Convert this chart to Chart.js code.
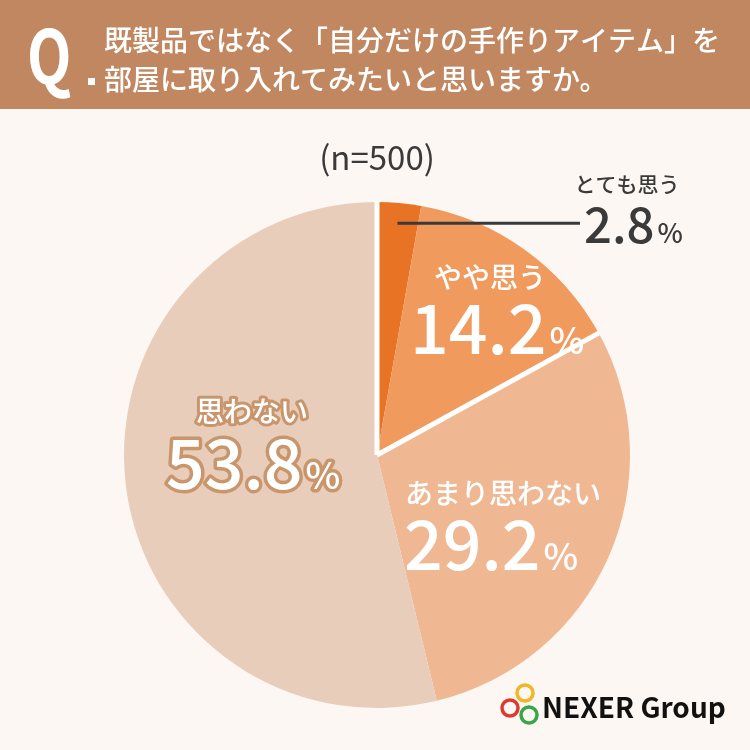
<!DOCTYPE html>
<html>
<head>
<meta charset="utf-8">
<script src="https://cdn.jsdelivr.net/npm/chart.js@4"></script>
<style>
  html, body { margin: 0; padding: 0; background: #FDF7F3; }
  #wrap { width: 750px; height: 750px; }
</style>
</head>
<body>
<div id="wrap"><canvas id="pie-chart" width="750" height="750"></canvas></div>
<script>
// データ
var pieLabels = ["とても思う", "やや思う", "あまり思わない", "思わない"];
var pieData = [2.8, 14.2, 29.2, 53.8];
var pieColors = ["#E87324", "#F09A5E", "#EFB893", "#E8CDBB"];

var titleLines = ["既製品ではなく「自分だけの手作りアイテム」を", "部屋に取り入れてみたいと思いますか。"];
var sampleText = "(n=500)";

var FONT = '"Noto Sans CJK JP", "Noto Sans", sans-serif';

// 数字 + 小さい% を描く
function drawPct(ctx, text, x, y, size, fill, stroke) {
    var small = Math.round(size * 0.55);
    ctx.textAlign = "left";
    ctx.textBaseline = "alphabetic";
    ctx.font = "500 " + size + "px " + FONT;
    var w1 = ctx.measureText(text).width;
    if (stroke) {
        ctx.lineJoin = "round";
        ctx.strokeStyle = stroke;
        ctx.lineWidth = 7;
        ctx.strokeText(text, x, y);
    }
    ctx.fillStyle = fill;
    ctx.fillText(text, x, y);
    ctx.font = "500 " + small + "px " + FONT;
    if (stroke) ctx.strokeText("%", x + w1 + 3, y);
    ctx.fillText("%", x + w1 + 3, y);
}

function drawLabel(ctx, text, x, y, size, fill, stroke) {
    ctx.font = "500 " + size + "px " + FONT;
    ctx.textAlign = "center";
    ctx.textBaseline = "alphabetic";
    if (stroke) {
        ctx.lineJoin = "round";
        ctx.strokeStyle = stroke;
        ctx.lineWidth = 6;
        ctx.strokeText(text, x, y);
    }
    ctx.fillStyle = fill;
    ctx.fillText(text, x, y);
}

var decoPlugin = {
    id: "deco",
    beforeDraw: function (chart) {
        var ctx = chart.ctx;
        ctx.save();
        ctx.fillStyle = "#FDF7F3";
        ctx.fillRect(0, 0, 750, 750);
        // ヘッダー
        ctx.fillStyle = "#C08760";
        ctx.fillRect(0, 0, 750, 109);
        ctx.fillStyle = "#FFFFFF";
        ctx.textBaseline = "alphabetic";
        ctx.textAlign = "left";
        ctx.save();
        ctx.translate(27, 84);
        ctx.scale(0.78, 1);
        ctx.font = "bold 74px " + FONT;
        ctx.fillText("Q", 0, 0);
        ctx.restore();
        ctx.fillRect(88, 78, 7, 7);
        ctx.font = "500 28px " + FONT;
        ctx.fillText(titleLines[0], 104, 51);
        ctx.fillText(titleLines[1], 104, 90);
        // n=500
        ctx.fillStyle = "#3A3A3A";
        ctx.textAlign = "center";
        ctx.font = "400 33px " + FONT;
        ctx.fillText(sampleText, 377, 170);
        ctx.restore();
    },
    afterDatasetsDraw: function (chart) {
        var ctx = chart.ctx;
        var arcs = chart.getDatasetMeta(0).data;
        ctx.save();
        // 区切り線（白）
        ctx.strokeStyle = "#FFFFFF";
        ctx.lineWidth = 5;
        [0, 2].forEach(function (i) {
            var a = arcs[i];
            ctx.beginPath();
            ctx.moveTo(a.x, a.y);
            ctx.lineTo(a.x + Math.cos(a.startAngle) * (a.outerRadius + 1), a.y + Math.sin(a.startAngle) * (a.outerRadius + 1));
            ctx.stroke();
        });
        // とても思う の引き出し線
        var a0 = arcs[0];
        var mid = (a0.startAngle + a0.endAngle) / 2;
        var px = a0.x + Math.cos(mid) * a0.outerRadius * 0.92;
        var py = a0.y + Math.sin(mid) * a0.outerRadius * 0.92;
        ctx.strokeStyle = "#3A3A3A";
        ctx.lineWidth = 3;
        ctx.beginPath();
        ctx.moveTo(px, py);
        ctx.lineTo(580, py);
        ctx.stroke();

        // ラベル
        drawLabel(ctx, pieLabels[0], 627, 192, 21, "#3A3A3A");
        drawPct(ctx, pieData[0].toFixed(1), 584, 243, 49, "#3A3A3A");

        drawLabel(ctx, pieLabels[1], 490, 288, 28, "#FFFFFF");
        drawPct(ctx, pieData[1].toFixed(1), 410, 354, 68, "#FFFFFF");

        drawLabel(ctx, pieLabels[2], 503, 504, 28, "#FFFFFF");
        drawPct(ctx, pieData[2].toFixed(1), 404, 570, 68, "#FFFFFF");

        drawLabel(ctx, pieLabels[3], 252, 422, 28, "#FFFFFF", "#C9956B");
        drawPct(ctx, pieData[3].toFixed(1), 166, 489, 68, "#FFFFFF", "#C9956B");

        // ロゴ
        ctx.lineWidth = 3.5;
        [["#F2B623", 525, 693], ["#E03A2E", 510, 708], ["#3BA647", 529, 715]].forEach(function (c) {
            ctx.strokeStyle = c[0];
            ctx.beginPath();
            ctx.arc(c[1], c[2], 8, 0, Math.PI * 2);
            ctx.stroke();
        });
        ctx.fillStyle = "#111111";
        ctx.textAlign = "left";
        ctx.font = "bold 28px " + FONT;
        ctx.fillText("NEXER Group", 542, 718);
        ctx.restore();
    }
};

var ctx1 = document.getElementById("pie-chart");
var myPieChart = new Chart(ctx1, {
    type: "pie",
    data: {
        labels: pieLabels,
        datasets: [{
            data: pieData,
            backgroundColor: pieColors,
            borderWidth: 0
        }]
    },
    options: {
        responsive: false,
        animation: false,
        layout: {
            padding: { left: 124, right: 120, top: 202, bottom: 42 }
        },
        plugins: {
            legend: { display: false },
            tooltip: { enabled: false }
        }
    },
    plugins: [decoPlugin]
});
</script>
</body>
</html>
